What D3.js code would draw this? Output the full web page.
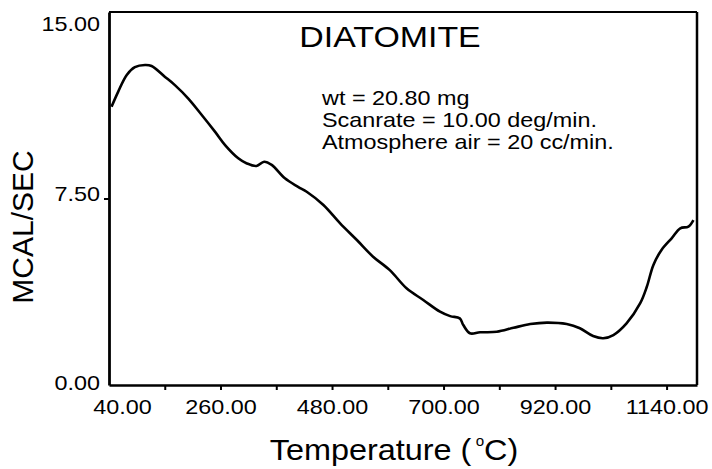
<!DOCTYPE html>
<html>
<head>
<meta charset="utf-8">
<script src="https://cdn.jsdelivr.net/npm/d3@7"></script>
<style>
  body { margin: 0; background: #fff; }
  svg { display: block; font-family: "Liberation Sans", Arial, sans-serif; }
</style>
</head>
<body>
<div id="chart"></div>
<script>
// DSC trace: temperature (deg C) vs heat flow (mcal/sec).
const temperature = [45, 58, 75, 91, 111, 124, 150, 170, 196, 223,
  249, 269, 295, 312, 331, 346, 361, 387, 413, 430,
  463, 496, 529, 561, 594, 627, 660, 693, 713, 732,
  739, 752, 772, 805, 838, 871, 904, 943, 969, 995,
  1015, 1035, 1061, 1088, 1101, 1114, 1130, 1150, 1167, 1183, 1193]
const heatFlow = [11.19, 11.79, 12.47, 12.78, 12.87, 12.83, 12.40, 12.06, 11.53, 10.86,
  10.19, 9.65, 9.12, 8.91, 8.81, 8.98, 8.85, 8.31, 7.97, 7.77,
  7.24, 6.50, 5.83, 5.16, 4.62, 3.89, 3.42, 2.95, 2.77, 2.68,
  2.41, 2.08, 2.12, 2.14, 2.30, 2.45, 2.51, 2.45, 2.28, 1.97,
  1.88, 2.01, 2.48, 3.29, 3.95, 4.83, 5.43, 5.90, 6.30, 6.37, 6.63]

const xLabelTicks = [40, 260, 480, 700, 920, 1140]
const xMarkTicks = [150, 260, 370, 480, 590, 700, 810, 920, 1030, 1140]
const yTicks = [0, 7.5, 15]

const title = 'DIATOMITE'
const notes = ['wt = 20.80 mg', 'Scanrate = 10.00 deg/min.', 'Atmosphere air = 20 cc/min.']

const width = 712
const height = 469
const stretch = 1.17 // the scan's lettering is wider than Arial

const svg = d3.select('#chart').append('svg')
  .attr('width', width)
  .attr('height', height)
svg.append('rect').attr('width', width).attr('height', height).attr('fill', '#fff')

const x = d3.scaleLinear().domain([40, 1200]).range([109, 697])
const y = d3.scaleLinear().domain([0, 15]).range([385, 12])

// widen a text element around its anchor point
function widen(sel, k) {
  sel.each(function () {
    const t = d3.select(this)
    const tx = +(t.attr('x') || 0)
    const ty = +(t.attr('y') || 0)
    t.attr('x', 0).attr('y', 0)
      .attr('transform', `translate(${tx},${ty}) scale(${k},1)`)
  })
}

/**
 * Frame.
 */
const frame = svg.append('g').attr('stroke', '#000').attr('fill', 'none')
frame.append('line')
  .attr('x1', x.range()[0]).attr('x2', x.range()[1])
  .attr('y1', y(15)).attr('y2', y(15))
  .attr('stroke-width', 2)
frame.append('line')
  .attr('x1', x.range()[1]).attr('x2', x.range()[1])
  .attr('y1', y(15)).attr('y2', y(0))
  .attr('stroke-width', 2.5)

/**
 * Axes.
 */
const xMarks = svg.append('g')
  .attr('transform', `translate(0,${y(0)})`)
  .call(d3.axisBottom(x).tickValues(xMarkTicks).tickSizeInner(5).tickSizeOuter(0).tickFormat(''))
xMarks.select('.domain').attr('stroke-width', 2.5)
xMarks.selectAll('.tick line').attr('stroke-width', 2)

const xLabels = svg.append('g')
  .attr('transform', `translate(0,${y(0)})`)
  .call(d3.axisBottom(x).tickValues(xLabelTicks).tickSize(0).tickPadding(15).tickFormat(d3.format('.2f')))
xLabels.select('.domain').remove()
xLabels.selectAll('text')
  .attr('font-size', 20)
  .attr('font-family', '"Liberation Sans", Arial, sans-serif')
  .attr('fill', '#000')
  .attr('dy', null)
  .attr('y', 29)
  .attr('x', d => d === 40 ? 13 : 0)
widen(xLabels.selectAll('text'), stretch)

const yAxis = svg.append('g')
  .attr('transform', `translate(${x.range()[0]},0)`)
  .call(d3.axisLeft(y).tickValues(yTicks).tickSizeInner(5).tickSizeOuter(0).tickPadding(4).tickFormat(d3.format('.2f')))
yAxis.select('.domain').attr('stroke-width', 2.8)
yAxis.selectAll('.tick line').attr('stroke-width', 2)
  .attr('opacity', d => d === 7.5 ? 1 : 0)
yAxis.selectAll('text')
  .attr('font-size', 20)
  .attr('font-family', '"Liberation Sans", Arial, sans-serif')
  .attr('fill', '#000')
  .attr('dy', null)
  .attr('y', d => d === 15 ? 18 : d === 0 ? 4 : 2)
widen(yAxis.selectAll('text'), stretch)

/**
 * Trace.
 */
const line = d3.line()
  .x(i => x(temperature[i]))
  .y(i => y(heatFlow[i]))
  .curve(d3.curveCatmullRom)
svg.append('path')
  .datum(d3.range(temperature.length))
  .attr('d', line)
  .attr('fill', 'none')
  .attr('stroke', '#000')
  .attr('stroke-width', 2.6)
  .attr('stroke-linejoin', 'round')

/**
 * Texts.
 */
const titleText = svg.append('text')
  .attr('x', 390).attr('y', 47)
  .attr('text-anchor', 'middle')
  .attr('font-size', 30)
  .text(title)
widen(titleText, 1.13)

svg.selectAll('.note')
  .data(notes)
  .enter()
  .append('text')
  .attr('class', 'note')
  .attr('x', 322)
  .attr('y', (d, i) => 105 + i * 22)
  .attr('font-size', 20)
  .text(d => d)
  .call(widen, stretch)

const xTitle = svg.append('text')
  .attr('x', 394).attr('y', 460)
  .attr('text-anchor', 'middle')
  .attr('font-size', 30)
xTitle.append('tspan').text('Temperature (')
xTitle.append('tspan').attr('font-size', 14).attr('dx', 4).attr('dy', -14).text('o')
xTitle.append('tspan').attr('dx', 0).attr('dy', 14).text('C)')
widen(xTitle, 1.08)

svg.append('text')
  .attr('transform', 'translate(33,227) rotate(-90)')
  .attr('text-anchor', 'middle')
  .attr('font-size', 30)
  .text('MCAL/SEC')
</script>
</body>
</html>
